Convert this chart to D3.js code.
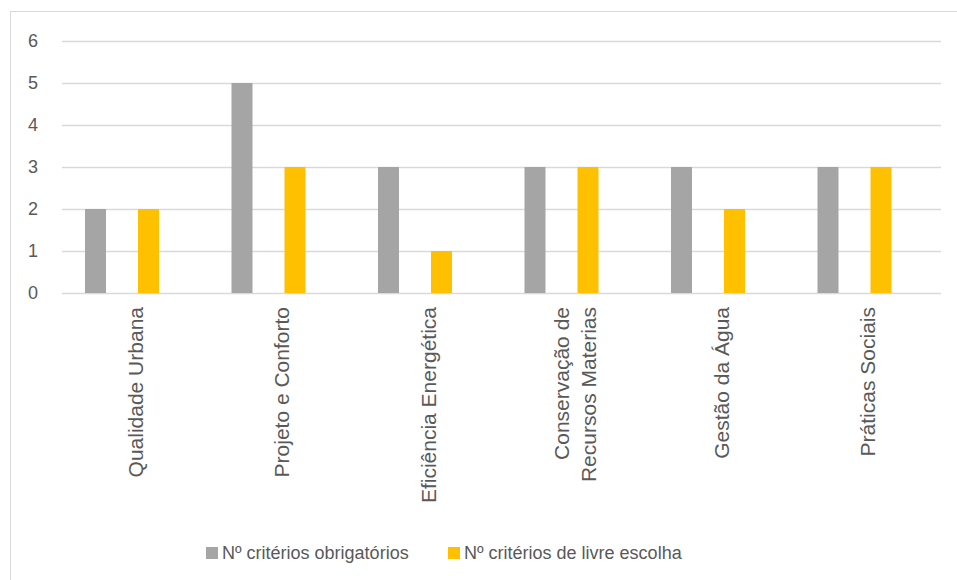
<!DOCTYPE html>
<html>
<head>
<meta charset="utf-8">
<script src="https://cdn.jsdelivr.net/npm/d3@7"></script>
<style>
  body { margin: 0; background: #fff; }
  svg text { font-family: "Liberation Sans", Arial, sans-serif; fill: #595959; }
</style>
</head>
<body>
<script>
const categories = [
    ["Qualidade Urbana"],
    ["Projeto e Conforto"],
    ["Eficiência Energética"],
    ["Conservação de", "Recursos Materias"],
    ["Gestão da Água"],
    ["Práticas Sociais"]
];
const obrigatorios = [2, 5, 3, 3, 3, 3];
const livreEscolha = [2, 3, 1, 3, 2, 3];
const seriesNames = ["Nº critérios obrigatórios", "Nº critérios de livre escolha"];
const yTicks = [0, 1, 2, 3, 4, 5, 6];

const width = 957, height = 580;
const colors = ["#A5A5A5", "#FFC000"];

const svg = d3.select("body").append("svg")
    .attr("width", width)
    .attr("height", height);

// chart frame
svg.append("rect")
    .attr("x", 10.5).attr("y", 11.5)
    .attr("width", 960).attr("height", 600)
    .attr("fill", "none")
    .attr("stroke", "#D9D9D9");

const catKeys = categories.map(d => d.join(" "));

const x0 = d3.scaleBand()
    .domain(catKeys)
    .range([62, 941]);

// four slots per cluster, series sit in slots 0 and 2
const x1 = d3.scaleBand()
    .domain([0, 1, 2, 3])
    .range([0, x0.bandwidth()])
    .paddingInner(0.2075)
    .paddingOuter(0.868);
const slot = [0, 2];

const y = d3.scaleLinear()
    .domain([0, 6])
    .range([293, 41]);

// gridlines
svg.append("g")
    .selectAll("line")
    .data(yTicks)
    .join("line")
    .attr("x1", 62).attr("x2", 941)
    .attr("y1", d => Math.round(y(d)) + 0.5)
    .attr("y2", d => Math.round(y(d)) + 0.5)
    .attr("stroke", "#D9D9D9")
    .attr("stroke-width", 1.5);

// y tick labels
svg.append("g")
    .selectAll("text")
    .data(yTicks)
    .join("text")
    .attr("x", 38)
    .attr("y", d => y(d))
    .attr("dy", "0.36em")
    .attr("text-anchor", "end")
    .style("font-size", "18px")
    .text(d => d);

// bars
const series = [obrigatorios, livreEscolha];
series.forEach((vals, si) => {
    svg.append("g")
        .selectAll("rect")
        .data(vals)
        .join("rect")
        .attr("x", (d, i) => x0(catKeys[i]) + x1(slot[si]))
        .attr("y", d => y(d))
        .attr("width", x1.bandwidth())
        .attr("height", d => y(0) - y(d))
        .attr("fill", colors[si]);
});

// category labels, rotated
const lineGap = 27;
const labels = svg.append("g")
    .selectAll("text")
    .data(categories)
    .join("text")
    .attr("transform", (d, i) => {
        const cx = x0(catKeys[i]) + x0.bandwidth() / 2;
        return `translate(${cx},307) rotate(-90)`;
    })
    .attr("text-anchor", "end")
    .style("font-size", "21px");

labels.each(function(lines) {
    const t = d3.select(this);
    const n = lines.length;
    lines.forEach((ln, k) => {
        t.append("tspan")
            .attr("x", 0)
            .attr("y", (k - (n - 1) / 2) * lineGap)
            .attr("dy", "0.36em")
            .text(ln);
    });
});

// legend
const legendX = [206, 448];
const legend = svg.append("g");
seriesNames.forEach((name, i) => {
    legend.append("rect")
        .attr("x", legendX[i]).attr("y", 547)
        .attr("width", 12).attr("height", 12)
        .attr("fill", colors[i]);
    legend.append("text")
        .attr("x", legendX[i] + 16)
        .attr("y", 559)
        .style("font-size", "18px")
        .text(name);
});
</script>
</body>
</html>
